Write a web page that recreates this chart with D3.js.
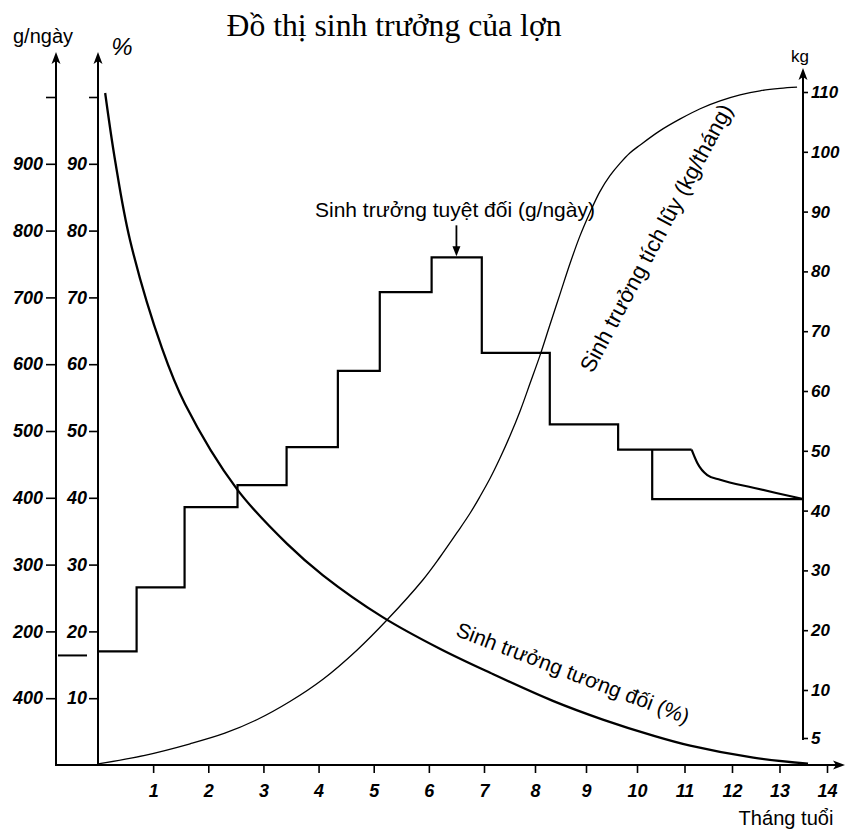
<!DOCTYPE html>
<html><head><meta charset="utf-8">
<script src="https://cdn.jsdelivr.net/npm/d3@7/dist/d3.min.js"></script>
<style>body{margin:0;background:#fff}</style>
</head><body>
<svg id="c" width="845" height="830"></svg>
<script>
// ---------- data ----------
const monthTicks = [1,2,3,4,5,6,7,8,9,10,11,12,13,14];
const gTicks = [100,200,300,400,500,600,700,800,900,1000];
const gTickLabels = ["400","200","300","400","500","600","700","800","900",""];
const pctTicks = [10,20,30,40,50,60,70,80,90,100];
const pctTickLabels = ["10","20","30","40","50","60","70","80","90",""];
const kgTicks = [5,10,20,30,40,50,60,70,80,90,100,110];
const kgTickLabels = ["5","10","20","30","40","50","60","70","80","90","100","110"];

// absolute growth (g/day), step line
const stepEdges  = [0, 0.7, 1.57, 2.53, 3.42, 4.35, 5.11, 6.05, 6.96, 8.29, 9.63, 11.15];
const stepValues = [170, 266, 386, 419, 476, 590, 708, 760, 617, 510, 472];
const taperMonths = [11.15, 11.27, 11.48, 11.75, 12.45, 13.38, 13.5];
const taperValues = [472, 452, 434, 427, 415, 400, 398];
const dropMonths = [10.32, 10.32, 13.5];
const dropValues = [472, 398, 398];

// relative growth (%)
const pctMonths = [0.13, 0.31, 0.58, 1.16, 1.58, 2.52, 3.43, 4.08, 5.17, 6.2, 7.12, 8.35, 9.33, 10.34, 11.12, 12.45, 13.6];
const pctValues = [100.6, 90.5, 78.6, 62.4, 54.0, 41.3, 33.1, 28.4, 22.1, 17.4, 13.8, 9.6, 6.8, 4.4, 2.9, 1.1, 0.2];

// cumulative growth (kg)
const kgMonths = [0, 0.85, 1.67, 2.30, 2.88, 3.48, 4.08, 4.70, 5.24, 5.89, 6.20, 6.51, 6.75, 6.93, 7.12, 7.31, 7.51, 7.71, 7.90, 8.10, 8.29, 8.49, 8.69, 8.88, 9.08, 9.27, 9.47, 9.67, 9.86, 10.06, 10.48, 10.91, 11.33, 11.75, 12.17, 12.59, 13.01, 13.37];
const kgValues = [2.3, 3.2, 4.4, 5.5, 6.9, 8.8, 11.8, 16.7, 21.7, 28.4, 32.2, 36.3, 39.6, 42.4, 45.4, 48.7, 52.5, 56.7, 61.2, 66.0, 71.0, 76.2, 81.4, 85.9, 89.9, 93.3, 96.0, 98.1, 99.8, 101.1, 103.5, 105.5, 107.2, 108.5, 109.5, 110.2, 110.6, 110.8];

// ---------- layout ----------
const svg = d3.select('#c');
const x  = d3.scaleLinear().domain([0,7,10,14]).range([98,484,637,827]);
const yG = d3.scaleLinear().domain([0,1000]).range([765,97]);
const yP = d3.scaleLinear().domain([0,100]).range([765,97]);
const yK = d3.scaleLinear().domain([5,10,110]).range([738,690,92]);
const AX_G = 56, AX_P = 98, AX_K = 803, BASE = 765;
const SANS = '"Liberation Sans", Arial, sans-serif';
const SERIF = '"Liberation Serif", "Times New Roman", serif';

function styleAxis(g, fs){
  g.select('.domain').remove();
  g.selectAll('line').attr('stroke','#000').attr('stroke-width',1.6);
  g.selectAll('text').attr('font-family',SANS).attr('font-size',fs||17)
   .attr('font-style','italic').attr('font-weight','bold').attr('fill','#000');
}
function fit(sel, w){
  const L = sel.node().getComputedTextLength();
  sel.attr('font-size', parseFloat(sel.attr('font-size')) * w / L);
}
function upArrow(xp, y0, y1){
  svg.append('line').attr('x1',xp).attr('x2',xp).attr('y1',y0).attr('y2',y1+4)
    .attr('stroke','#000').attr('stroke-width',2);
  svg.append('path').attr('d',`M${xp},${y1} L${xp-4.5},${y1+12} L${xp},${y1+9} L${xp+4.5},${y1+12} Z`).attr('fill','#000');
}

// axes lines
upArrow(AX_G, BASE, 52);
upArrow(AX_P, BASE, 52);
upArrow(AX_K, 740, 68);
svg.append('line').attr('x1',AX_G-1).attr('x2',838).attr('y1',BASE).attr('y2',BASE).attr('stroke','#000').attr('stroke-width',2);
svg.append('path').attr('d',`M845,${BASE} L833,${BASE-4.5} L836,${BASE} L833,${BASE+4.5} Z`).attr('fill','#000');

// ticks
svg.append('g').attr('transform',`translate(${AX_G},0)`)
  .call(d3.axisLeft(yG).tickValues(gTicks).tickFormat((d,i)=>gTickLabels[i]).tickSize(10).tickPadding(3))
  .call(g=>styleAxis(g,18));
svg.append('g').attr('transform',`translate(${AX_P},0)`)
  .call(d3.axisLeft(yP).tickValues(pctTicks).tickFormat((d,i)=>pctTickLabels[i]).tickSize(9).tickPadding(2))
  .call(g=>styleAxis(g,18));
svg.append('g').attr('transform',`translate(${AX_K},0)`)
  .call(d3.axisRight(yK).tickValues(kgTicks).tickFormat((d,i)=>kgTickLabels[i]).tickSize(5).tickPadding(3))
  .call(g=>styleAxis(g,17));
svg.append('g').attr('transform',`translate(0,${BASE})`)
  .call(d3.axisBottom(x).tickValues(monthTicks).tickFormat(d=>d).tickSize(8).tickPadding(11))
  .call(g=>styleAxis(g,18));

// step line (g/day)
const stepPts = stepEdges.map((m,i)=>[m, stepValues[Math.min(i, stepValues.length-1)]]);
svg.append('path').attr('d', d3.line().x(d=>x(d[0])).y(d=>yG(d[1])).curve(d3.curveStepAfter)(stepPts))
  .attr('fill','none').attr('stroke','#000').attr('stroke-width',2.2);
svg.append('path').attr('d', d3.line().x(d=>x(d[0])).y(d=>yG(d[1])).curve(d3.curveMonotoneX)(taperMonths.map((m,i)=>[m,taperValues[i]])))
  .attr('fill','none').attr('stroke','#000').attr('stroke-width',2.2);
svg.append('path').attr('d', d3.line().x(d=>x(d[0])).y(d=>yG(d[1]))(dropMonths.map((m,i)=>[m,dropValues[i]])))
  .attr('fill','none').attr('stroke','#000').attr('stroke-width',2.2);
// level mark on the g/day axis
svg.append('line').attr('x1',AX_G+2).attr('x2',AX_G+31).attr('y1',yG(stepValues[0])+4).attr('y2',yG(stepValues[0])+4)
  .attr('stroke','#000').attr('stroke-width',2);

// relative growth curve
svg.append('path').attr('d', d3.line().x(d=>x(d[0])).y(d=>yP(d[1])).curve(d3.curveCatmullRom.alpha(0.5))(pctMonths.map((m,i)=>[m,pctValues[i]])))
  .attr('fill','none').attr('stroke','#000').attr('stroke-width',2.3);

// cumulative curve
svg.append('path').attr('d', d3.line().x(d=>x(d[0])).y(d=>yK(d[1])).curve(d3.curveCatmullRom.alpha(0.5))(kgMonths.map((m,i)=>[m,kgValues[i]])))
  .attr('fill','none').attr('stroke','#000').attr('stroke-width',1.3);

// arrow for absolute label
const ax = x(6.5), topY = yG(stepValues[7]);
svg.append('line').attr('x1',ax).attr('x2',ax).attr('y1',topY-32).attr('y2',topY-8).attr('stroke','#000').attr('stroke-width',1.8);
svg.append('path').attr('d',`M${ax},${topY-1} L${ax-4},${topY-11} L${ax+4},${topY-11} Z`).attr('fill','#000');

// texts
const t1 = svg.append('text').attr('x',394).attr('y',36).attr('text-anchor','middle')
  .attr('font-family',SERIF).attr('font-size',24).text('Đồ thị sinh trưởng của lợn');
fit(t1, 335);
const t2 = svg.append('text').attr('x',455).attr('y',217).attr('text-anchor','middle')
  .attr('font-family',SANS).attr('font-size',17).text('Sinh trưởng tuyệt đối (g/ngày)');
fit(t2, 280);
const t3 = svg.append('text').attr('transform','translate(656,238) rotate(-62)').attr('text-anchor','middle').attr('dy','0.35em')
  .attr('font-family',SANS).attr('font-size',17).text('Sinh trưởng tích lũy (kg/tháng)');
fit(t3, 300);
const t4 = svg.append('text').attr('transform','translate(573,673) rotate(21)').attr('text-anchor','middle').attr('dy','0.35em')
  .attr('font-family',SANS).attr('font-size',17).text('Sinh trưởng tương đối (%)');
fit(t4, 248);
const t5 = svg.append('text').attr('x',786).attr('y',825).attr('text-anchor','middle')
  .attr('font-family',SANS).attr('font-size',16).text('Tháng tuổi');
fit(t5, 95);
const t6 = svg.append('text').attr('x',43).attr('y',43).attr('text-anchor','middle')
  .attr('font-family',SANS).attr('font-size',16).text('g/ngày');
fit(t6, 60);
svg.append('text').attr('x',122).attr('y',55).attr('text-anchor','middle')
  .attr('font-family',SANS).attr('font-size',24).attr('font-style','italic').text('%');
svg.append('text').attr('x',800).attr('y',62).attr('text-anchor','middle')
  .attr('font-family',SANS).attr('font-size',17).text('kg');
</script>
</body></html>
